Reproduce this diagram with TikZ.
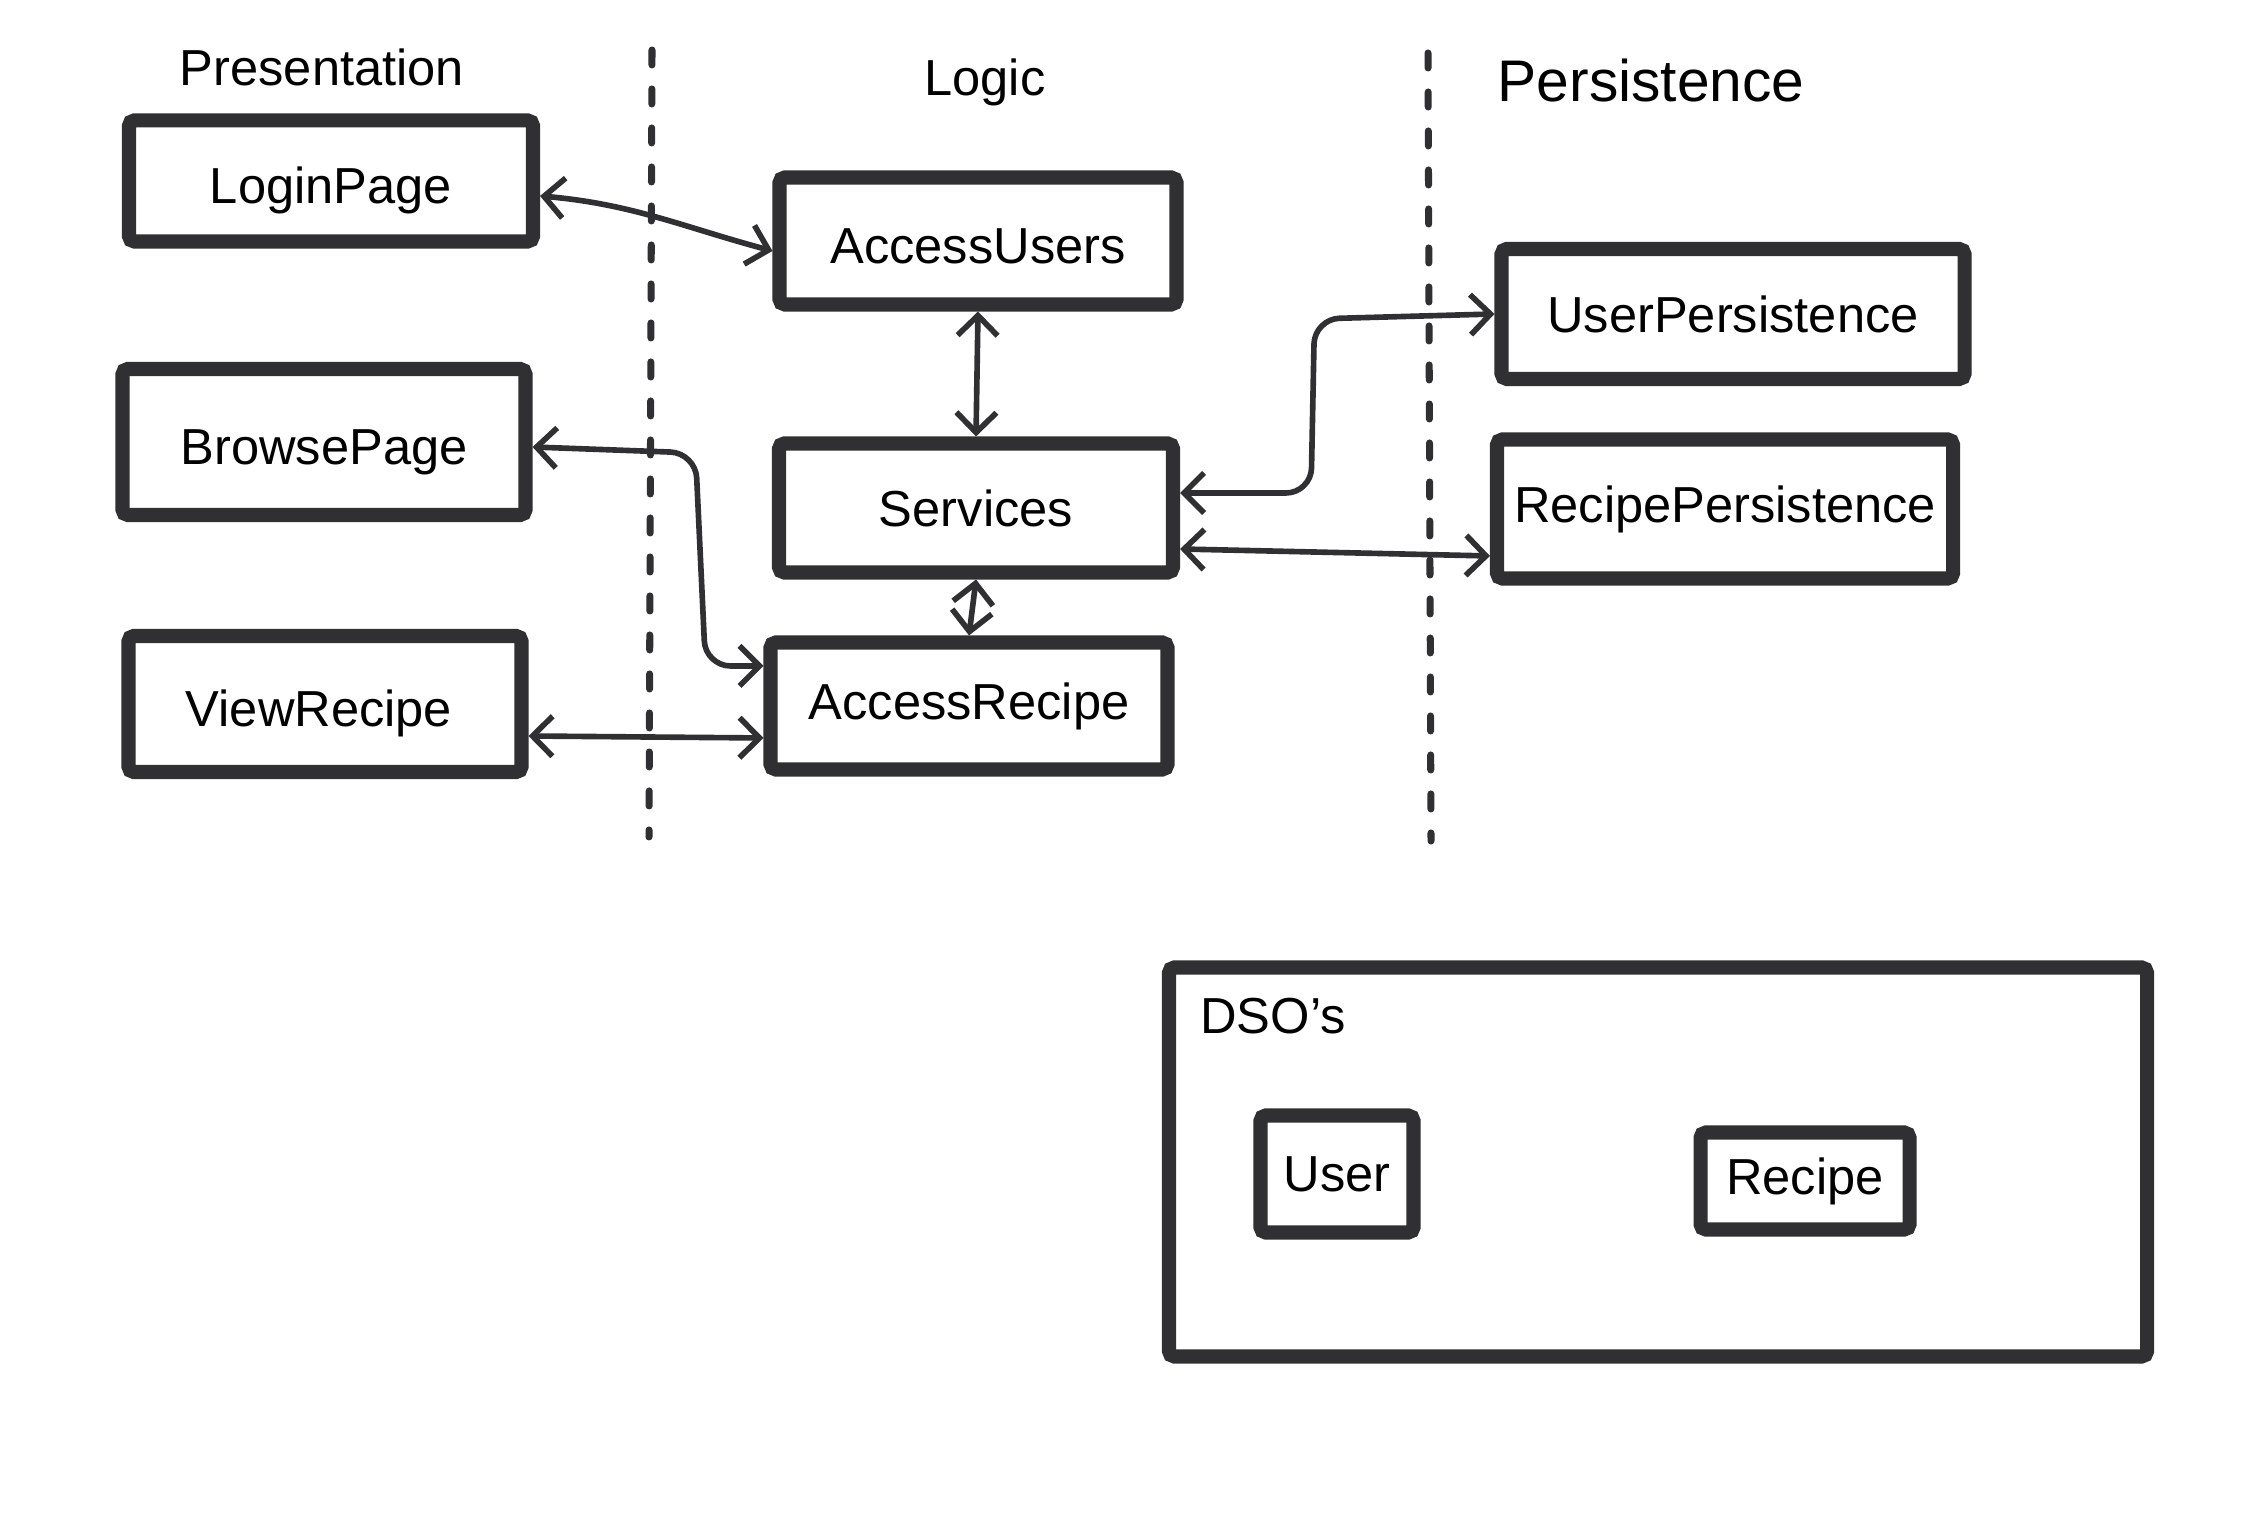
\documentclass[tikz,border=0pt]{standalone}
\usepackage{fontspec}
\setmainfont{Liberation Sans}
\usetikzlibrary{arrows.meta, positioning, calc}
\definecolor{inkgray}{RGB}{48, 48, 50}

\begin{document}
\begin{tikzpicture}[
  compbox/.style={draw=inkgray, line width=4pt, rounded corners=1.5pt, inner sep=0pt, font=\fontsize{14.4}{17}\selectfont},
  lowtext/.style={text height=0.55cm},
  link/.style={draw=inkgray, line width=1.6pt, line cap=round, line join=round, {Straight Barb[length=2mm,width=4mm]}-{Straight Barb[length=2mm,width=4mm]}},
  divider/.style={draw=inkgray, line width=2pt, line cap=round, dash pattern=on 0.15cm off 0.24cm},
  heading/.style={font=\fontsize{14.4}{17}\selectfont, anchor=base}
]
  \fill[white] (0,0) rectangle (22.44,15.25);
  \useasboundingbox (0,0) rectangle (22.44,15.25);

  % Layer headings
  \node[heading] (presTitle) at (3.22, 14.39) {Presentation};
  \node[heading] (logicTitle) at (9.85, 14.29) {Logic};
  \node[heading, font=\fontsize{16.7}{20}\selectfont] (persTitle) at (16.51, 14.23) {Persistence};

  % Layer dividers
  \coordinate (divAtop) at (6.52, 14.75);
  \coordinate (divAbot) at (6.49, 6.88);
  \coordinate (divBtop) at (14.28, 14.72);
  \coordinate (divBbot) at (14.31, 6.84);
  \draw[divider] (divAtop) -- (divAbot);
  \draw[divider] (divBtop) -- (divBbot);

  % Presentation layer
  \node[compbox, lowtext, minimum width=4.04cm, minimum height=1.21cm] (LoginPage) at (3.31, 13.44) {LoginPage};
  \node[compbox, lowtext, minimum width=4.03cm, minimum height=1.46cm] (BrowsePage) at (3.24, 10.83) {BrowsePage};
  \node[compbox, lowtext, minimum width=3.93cm, minimum height=1.36cm] (ViewRecipe) at (3.25, 8.21) {\hspace*{-0.12cm}ViewRecipe};

  % Logic layer
  \node[compbox, text height=0.45cm, minimum width=3.97cm, minimum height=1.27cm] (AccessUsers) at (9.78, 12.84) {AccessUsers};
  \node[compbox, minimum width=3.94cm, minimum height=1.29cm] (Services) at (9.76, 10.17) {Services};
  \node[compbox, minimum width=3.97cm, minimum height=1.27cm] (AccessRecipe) at (9.69, 8.19) {AccessRecipe};

  % Persistence layer
  \node[compbox, minimum width=4.63cm, minimum height=1.30cm] (UserPersistence) at (17.33, 12.11) {UserPersistence};
  \node[compbox, minimum width=4.56cm, minimum height=1.39cm] (RecipePersistence) at (17.25, 10.16) {RecipePersistence};

  % DSOs
  \node[compbox, minimum width=9.78cm, minimum height=3.89cm] (dsoGroup) at (16.58, 3.63) {};
  \node[heading, anchor=west] (dsoTitle) at (11.88, 5.09) {DSO's};
  \node[compbox, minimum width=1.53cm, minimum height=1.17cm] (UserDso) at (13.37, 3.51) {User};
  \node[compbox, minimum width=2.09cm, minimum height=0.97cm] (RecipeDso) at (18.05, 3.44) {Recipe};

  % Connections
  \draw[link] ([yshift=-0.15cm]LoginPage.east) to[out=-5, in=165] ([yshift=-0.1cm]AccessUsers.west);
  \draw[link] (AccessUsers.south) -- (Services.north);
  \draw[link, rounded corners=0.25cm] ([yshift=-0.05cm]BrowsePage.east) -- ++(1.63,-0.06)
    -- ([xshift=-0.58cm,yshift=0.4cm]AccessRecipe.west) -- ([yshift=0.4cm]AccessRecipe.west);
  \draw[link] (Services.south) -- (AccessRecipe.north);
  \draw[link] ([yshift=-0.32cm]ViewRecipe.east) -- ([yshift=-0.32cm]AccessRecipe.west);
  \draw[link, rounded corners=0.25cm] ([yshift=0.15cm]Services.east) -- ++(1.31,0)
    -- ([xshift=-1.8cm,yshift=-0.05cm]UserPersistence.west) -- (UserPersistence.west);
  \draw[link] ([yshift=-0.41cm]Services.east) -- ([yshift=-0.47cm]RecipePersistence.west);
\end{tikzpicture}
\end{document}
